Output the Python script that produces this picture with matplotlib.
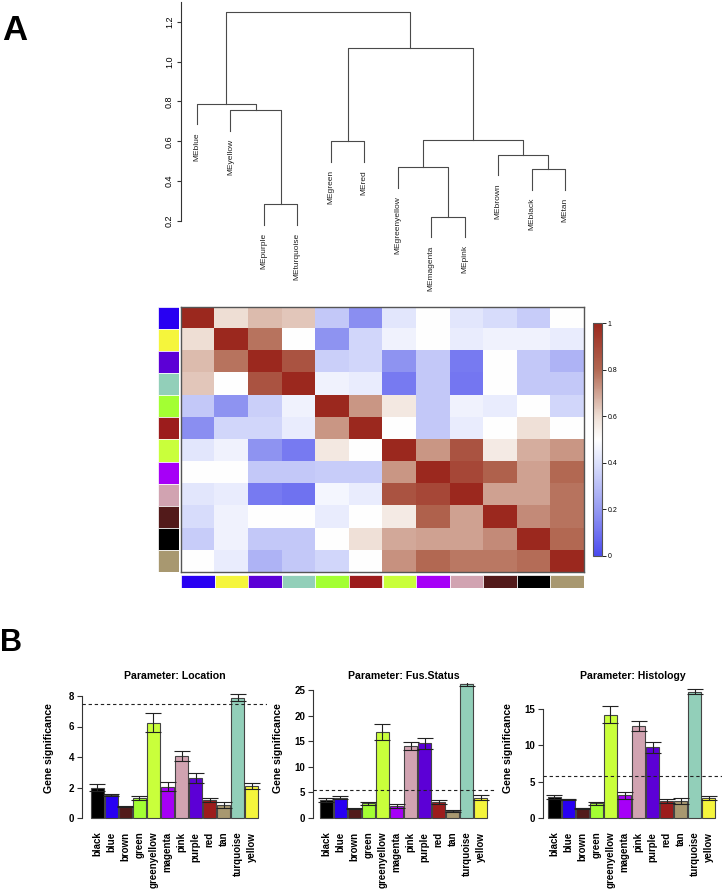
import matplotlib
matplotlib.use("Agg")
import matplotlib.pyplot as plt
import numpy as np
from matplotlib.colors import LinearSegmentedColormap

plt.rcParams['font.family'] = ['Liberation Sans', 'DejaVu Sans']

W, H = 723, 890

# ---- data ----
leaf_order = ['MEblue', 'MEyellow', 'MEpurple', 'MEturquoise', 'MEgreen', 'MEred',
              'MEgreenyellow', 'MEmagenta', 'MEpink', 'MEbrown', 'MEblack', 'MEtan']
# hclust-style merges: names are leaves, ints are earlier merges (1-based)
merges = [('MEpurple', 'MEturquoise'), ('MEmagenta', 'MEpink'), ('MEblack', 'MEtan'),
          ('MEgreenyellow', 2), ('MEbrown', 3), ('MEgreen', 'MEred'), (4, 5),
          ('MEyellow', 1), ('MEblue', 8), (6, 7), (9, 10)]
merge_heights = [0.285, 0.222, 0.461, 0.469, 0.533, 0.600, 0.606, 0.755, 0.789, 1.066, 1.247]
hang = 0.104

module_names = ['blue', 'yellow', 'purple', 'turquoise', 'green', 'red',
                'greenyellow', 'magenta', 'pink', 'brown', 'black', 'tan']
module_colors = ['#2800f2', '#f5f53c', '#5c00d6', '#92cfb9', '#a3ff33', '#9c1c1c',
                 '#c9ff3b', '#a600f7', '#d1a3b1', '#521a1a', '#000000', '#a89870']

adjacency = [
    [1.00, 0.60, 0.66, 0.64, 0.33, 0.17, 0.42, 0.50, 0.42, 0.39, 0.34, 0.50],
    [0.60, 1.00, 0.78, 0.50, 0.18, 0.37, 0.46, 0.50, 0.44, 0.46, 0.46, 0.44],
    [0.66, 0.78, 1.00, 0.86, 0.35, 0.37, 0.18, 0.33, 0.12, 0.50, 0.33, 0.27],
    [0.64, 0.50, 0.86, 1.00, 0.46, 0.44, 0.12, 0.33, 0.11, 0.50, 0.33, 0.33],
    [0.33, 0.18, 0.35, 0.46, 1.00, 0.72, 0.57, 0.33, 0.46, 0.44, 0.50, 0.37],
    [0.17, 0.37, 0.37, 0.44, 0.72, 1.00, 0.50, 0.33, 0.44, 0.50, 0.59, 0.50],
    [0.42, 0.46, 0.18, 0.12, 0.57, 0.50, 1.00, 0.72, 0.86, 0.56, 0.68, 0.72],
    [0.50, 0.50, 0.33, 0.33, 0.34, 0.34, 0.72, 1.00, 0.90, 0.82, 0.70, 0.80],
    [0.42, 0.44, 0.12, 0.10, 0.47, 0.44, 0.86, 0.90, 1.00, 0.70, 0.70, 0.78],
    [0.39, 0.46, 0.50, 0.50, 0.44, 0.50, 0.56, 0.82, 0.70, 1.00, 0.74, 0.78],
    [0.34, 0.46, 0.33, 0.33, 0.50, 0.59, 0.69, 0.70, 0.70, 0.74, 1.00, 0.80],
    [0.50, 0.44, 0.27, 0.33, 0.37, 0.50, 0.73, 0.80, 0.77, 0.77, 0.79, 1.00],
]

bar_names = ['black', 'blue', 'brown', 'green', 'greenyellow', 'magenta',
             'pink', 'purple', 'red', 'tan', 'turquoise', 'yellow']
bar_colors = ['#000000', '#2800f2', '#521a1a', '#a3ff33', '#c9ff3b', '#a600f7',
              '#d1a3b1', '#5c00d6', '#9c1c1c', '#a89870', '#92cfb9', '#f5f53c']

loc_mean = [2.00, 1.50, 0.75, 1.32, 6.25, 2.05, 4.05, 2.63, 1.17, 0.85, 7.90, 2.10]
loc_se = [0.20, 0.08, 0.05, 0.15, 0.62, 0.28, 0.33, 0.33, 0.13, 0.20, 0.20, 0.18]
fus_mean = [3.55, 4.00, 1.80, 2.90, 16.8, 2.40, 14.1, 14.6, 3.10, 1.40, 26.2, 4.00]
fus_se = [0.45, 0.20, 0.10, 0.30, 1.50, 0.40, 0.80, 1.05, 0.35, 0.25, 0.35, 0.40]
his_mean = [2.85, 2.56, 1.33, 2.05, 14.2, 3.10, 12.6, 9.70, 2.33, 2.33, 17.4, 2.70]
his_se = [0.28, 0.12, 0.05, 0.20, 1.15, 0.45, 0.70, 0.70, 0.22, 0.38, 0.30, 0.27]
thresholds = [7.45, 5.45, 5.80]
titles = ['Parameter: Location', 'Parameter: Fus.Status', 'Parameter: Histology']


def px_axes(fig, l, t, r, b):
    return fig.add_axes([l / W, 1 - b / H, (r - l) / W, (b - t) / H])


fig = plt.figure(figsize=(W / 100, H / 100), dpi=100)

# ---- dendrogram ----
ax = px_axes(fig, 181, 0, 600, 250)
pitch = 33.45
x0 = -(197 - 181) / pitch
ax.set_xlim(x0, x0 + (600 - 181) / pitch)
ax.set_ylim(1.2 - (250 - 21.7) / 199.3, 1.2 + 21.7 / 199.3)
node_pos = {}
lc = '#4a4a4a'
for k, ((a, b), h) in enumerate(zip(merges, merge_heights), start=1):
    ends = []
    for c in (a, b):
        if isinstance(c, str):
            xc, yc = leaf_order.index(c), h - hang
            ax.text(xc, yc - 0.04, c, rotation=90, ha='center', va='top', fontsize=6, color='#222222')
        else:
            xc, yc = node_pos[c]
        ends.append((xc, yc))
    (xa, ya), (xb, yb) = ends
    ax.plot([xa, xa, xb, xb], [ya, h, h, yb], color=lc, lw=0.8)
    node_pos[k] = ((xa + xb) / 2, h)
for s in ['top', 'right', 'bottom']:
    ax.spines[s].set_visible(False)
ax.spines['left'].set_bounds(0.2, 1.299)
ax.spines['left'].set_color('#333333')
ax.spines['left'].set_linewidth(0.8)
ax.set_xticks([])
ax.set_yticks([0.2, 0.4, 0.6, 0.8, 1.0, 1.2])
ax.set_yticklabels(['0.2', '0.4', '0.6', '0.8', '1.0', '1.2'], rotation=90, va='center', fontsize=6.5)
ax.tick_params(axis='y', length=3, width=0.8, color='#333333', pad=2)
ax.patch.set_visible(False)

# ---- heatmap ----
cmap = LinearSegmentedColormap.from_list('bwr_wgcna', [
    (0.0, '#4b4bf0'), (0.2, '#969bf2'), (0.4, '#dce1fc'), (0.5, '#ffffff'),
    (0.6, '#eeded4'), (0.8, '#b26852'), (1.0, '#9b281e')])
axh = px_axes(fig, 181, 307, 584, 572)
im = axh.imshow(np.array(adjacency), cmap=cmap, vmin=0, vmax=1, aspect='auto', interpolation='nearest')
axh.set_xticks([])
axh.set_yticks([])
for s in axh.spines.values():
    s.set_color('#555555')
    s.set_linewidth(1.0)

axl = px_axes(fig, 158, 307, 179, 572)
axl.barh(range(len(module_colors)), 1, height=1, color=module_colors, edgecolor='white', linewidth=0.5)
axl.set_ylim(len(module_colors) - 0.5, -0.5)
axl.set_xlim(0, 1)
axl.axis('off')

axb = px_axes(fig, 181, 575, 584, 588)
axb.bar(range(len(module_colors)), 1, width=1, color=module_colors, edgecolor='white', linewidth=0.5)
axb.set_xlim(-0.5, len(module_colors) - 0.5)
axb.set_ylim(0, 1)
axb.axis('off')

cax = px_axes(fig, 593, 323, 602, 556)
cb = fig.colorbar(im, cax=cax, ticks=[0, 0.2, 0.4, 0.6, 0.8, 1])
cb.ax.set_yticklabels(['0', '0.2', '0.4', '0.6', '0.8', '1'], fontsize=5)
cb.ax.tick_params(length=3, width=0.6, pad=1)
cb.outline.set_edgecolor('#555555')
cb.outline.set_linewidth(0.8)

# ---- bar charts ----
panels = [
    (loc_mean, loc_se, 82, 97.4, 15.25, 267, [0, 2, 4, 6, 8], 49),
    (fus_mean, fus_se, 313, 326.4, 5.12, 495, [0, 5, 10, 15, 20, 25], 278),
    (his_mean, his_se, 543, 554.4, 7.27, 722, [0, 5, 10, 15], 508),
]
bp = 14.02
for i, (means, se, spx, b0, scale, rpx, ticks, ylx) in enumerate(panels):
    axp = px_axes(fig, spx, 683, rpx, 822)
    xl = -(b0 - spx) / bp
    axp.set_xlim(xl, xl + (rpx - spx) / bp)
    axp.set_ylim(-(822 - 818) / scale, (818 - 683) / scale)
    xs = np.arange(len(means))
    axp.bar(xs, means, width=0.906, color=bar_colors, edgecolor='#444444', linewidth=0.8, zorder=2)
    axp.errorbar(xs, means, yerr=se, fmt='none', ecolor='#222222', elinewidth=0.8,
                 capsize=6, capthick=0.8, zorder=3)
    axp.axhline(thresholds[i], color='#222222', lw=0.8, ls=(0, (3, 2.5)), zorder=4)
    for s in ['top', 'right', 'bottom']:
        axp.spines[s].set_visible(False)
    axp.spines['left'].set_bounds(ticks[0], ticks[-1])
    axp.spines['left'].set_linewidth(0.8)
    axp.spines['left'].set_color('#333333')
    axp.set_yticks(ticks)
    axp.set_yticklabels([str(t) for t in ticks], fontsize=7, fontweight='bold')
    axp.tick_params(axis='y', length=3.5, width=0.8, color='#333333', pad=2)
    axp.set_xticks(xs)
    axp.set_xticklabels(bar_names, rotation=90, fontsize=7, fontweight='bold', va='top')
    axp.tick_params(axis='x', length=0, pad=7)
    axp.patch.set_visible(False)
    fig.text((spx + rpx) / 2 / W, 1 - 676 / H, titles[i], ha='center', va='center',
             fontsize=7.6, fontweight='bold')
    fig.text(ylx / W, 1 - 748 / H, 'Gene significance', rotation=90, ha='center', va='center',
             fontsize=7.6, fontweight='bold')

fig.text(2 / W, 1 - 30 / H, 'A', ha='left', va='center', fontsize=25, fontweight='heavy')
fig.text(0 / W, 1 - 643 / H, 'B', ha='left', va='center', fontsize=22, fontweight='heavy')

fig.savefig('out.png', dpi=100)
